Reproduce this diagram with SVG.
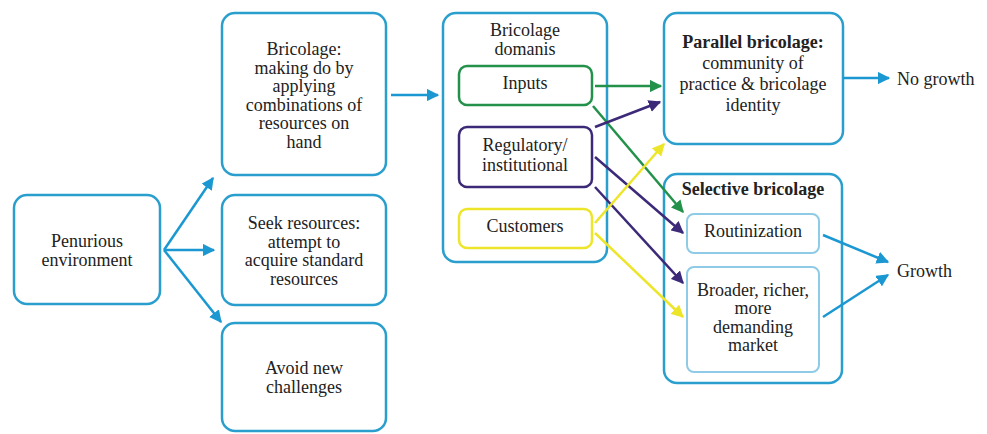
<svg xmlns="http://www.w3.org/2000/svg" width="987" height="434" viewBox="0 0 987 434">
<style>
text{font-family:'Liberation Serif','Times New Roman','Liberation Sans',Arial,sans-serif;font-size:18px;fill:#222;text-anchor:middle}
.b{font-weight:bold}
.l{text-anchor:start}
.box{fill:#fff;stroke:#2a9fcd;stroke-width:2.5}
.inner{fill:#fff;stroke:#8fcbe6;stroke-width:2}
.blue{stroke:#1b98d1;stroke-width:2.5;fill:none}
.green{stroke:#23914a;stroke-width:2.5;fill:none}
.purple{stroke:#3c2a78;stroke-width:2.5;fill:none}
.yellow{stroke:#ede52a;stroke-width:2.5;fill:none}
</style>
<defs>
<marker id="ab" viewBox="0 0 10 10" refX="9" refY="5" markerWidth="5" markerHeight="5" orient="auto" markerUnits="strokeWidth"><path d="M0,0L10,5L0,10z" fill="#1b98d1"/></marker>
<marker id="ag" viewBox="0 0 10 10" refX="9" refY="5" markerWidth="5" markerHeight="5" orient="auto" markerUnits="strokeWidth"><path d="M0,0L10,5L0,10z" fill="#23914a"/></marker>
<marker id="ap" viewBox="0 0 10 10" refX="9" refY="5" markerWidth="5" markerHeight="5" orient="auto" markerUnits="strokeWidth"><path d="M0,0L10,5L0,10z" fill="#3c2a78"/></marker>
<marker id="ay" viewBox="0 0 10 10" refX="9" refY="5" markerWidth="5" markerHeight="5" orient="auto" markerUnits="strokeWidth"><path d="M0,0L10,5L0,10z" fill="#ede52a"/></marker>
</defs>
<rect width="987" height="434" fill="#fff"/>
<g id="penurious">
<rect class="box" x="14" y="195" width="146" height="109" rx="13"/>
<text x="87" y="247">Penurious</text>
<text x="87" y="266">environment</text>
</g>
<g id="bricolage">
<rect class="box" x="222" y="13" width="164" height="162" rx="13"/>
<text x="304" y="55">Bricolage:</text>
<text x="304" y="73.5">making do by</text>
<text x="304" y="92">applying</text>
<text x="304" y="110.5">combinations of</text>
<text x="304" y="129">resources on</text>
<text x="304" y="147.5">hand</text>
</g>
<g id="seek">
<rect class="box" x="222" y="195" width="164" height="110" rx="13"/>
<text x="304" y="229">Seek resources:</text>
<text x="304" y="247.5">attempt to</text>
<text x="304" y="266">acquire standard</text>
<text x="304" y="284.5">resources</text>
</g>
<g id="avoid">
<rect class="box" x="222" y="323" width="164" height="108" rx="13"/>
<text x="304" y="374">Avoid new</text>
<text x="304" y="392.5">challenges</text>
</g>
<g id="domains">
<rect class="box" x="443" y="13" width="164" height="249" rx="13"/>
<text x="525" y="36">Bricolage</text>
<text x="525" y="55">domanis</text>
</g>
<g id="inputs">
<rect fill="#fff" stroke="#23914a" stroke-width="2.5" x="459" y="66" width="133" height="39" rx="8"/>
<text x="525" y="89">Inputs</text>
</g>
<g id="regulatory">
<rect fill="#fff" stroke="#3c2a78" stroke-width="2.5" x="459" y="127" width="133" height="60" rx="8"/>
<text x="525" y="151">Regulatory/</text>
<text x="525" y="170.5">institutional</text>
</g>
<g id="customers">
<rect fill="#fff" stroke="#ede52a" stroke-width="2.5" x="459" y="209" width="133" height="39" rx="8"/>
<text x="525" y="232">Customers</text>
</g>
<g id="parallel">
<rect class="box" x="664" y="13" width="179" height="131" rx="13"/>
<text class="b" x="753" y="48">Parallel bricolage:</text>
<text x="753" y="69">community of</text>
<text x="753" y="90">practice &amp; bricolage</text>
<text x="753" y="111">identity</text>
</g>
<g id="selective">
<rect class="box" x="664" y="174" width="178" height="209" rx="13"/>
<text class="b" x="753" y="195">Selective bricolage</text>
</g>
<g id="routinization">
<rect class="inner" x="687" y="214" width="132" height="39" rx="7"/>
<text x="753" y="237">Routinization</text>
</g>
<g id="broader">
<rect class="inner" x="687" y="267" width="132" height="105" rx="7"/>
<text x="753" y="295.5">Broader, richer,</text>
<text x="753" y="314">more</text>
<text x="753" y="332.5">demanding</text>
<text x="753" y="351">market</text>
</g>
<g id="nogrowth"><text class="l" x="897" y="85">No growth</text></g>
<g id="growth"><text class="l" x="897" y="277">Growth</text></g>
<g id="connectors">
<path class="blue" d="M164,250L213,178" marker-end="url(#ab)"/>
<path class="blue" d="M164,250L214,250" marker-end="url(#ab)"/>
<path class="blue" d="M164,250L221,322" marker-end="url(#ab)"/>
<path class="blue" d="M391,95L438,95" marker-end="url(#ab)"/>
<path class="green" d="M595,86L661,86" marker-end="url(#ag)"/>
<path class="green" d="M593,106L683,212" marker-end="url(#ag)"/>
<path class="purple" d="M595,127L660,102" marker-end="url(#ap)"/>
<path class="purple" d="M595,157L683,233" marker-end="url(#ap)"/>
<path class="purple" d="M595,187L683,283" marker-end="url(#ap)"/>
<path class="yellow" d="M595,223L664,144" marker-end="url(#ay)"/>
<path class="yellow" d="M595,233L683,317" marker-end="url(#ay)"/>
<path class="blue" d="M843,78L889,78" marker-end="url(#ab)"/>
<path class="blue" d="M823,235L888,262" marker-end="url(#ab)"/>
<path class="blue" d="M823,317L888,275" marker-end="url(#ab)"/>
</g>
</svg>
